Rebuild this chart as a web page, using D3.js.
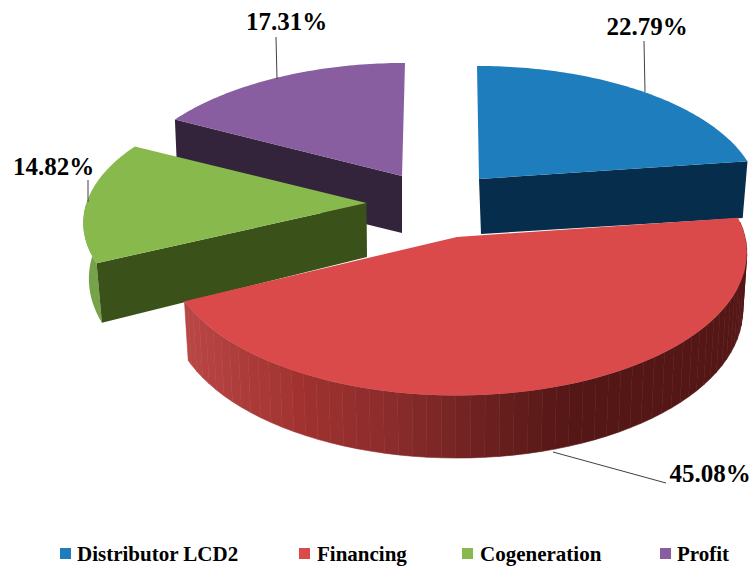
<!DOCTYPE html>
<html>
<head>
<meta charset="utf-8">
<style>
html,body{margin:0;padding:0;background:#fff;}
svg{display:block;}
text{font-family:"Liberation Serif","Times New Roman",serif;font-weight:bold;fill:#000;}
</style>
<script src="https://cdn.jsdelivr.net/npm/d3@7/dist/d3.min.js"></script>
</head>
<body>
<svg id="chart" width="751" height="566"></svg>
<script>
// ---- data ----
const categories = ["Distributor LCD2", "Financing", "Cogeneration", "Profit"];
const shares = [22.79, 45.08, 14.82, 17.31];

// ---- styles ----
const topColors = ["#1e7dbc", "#da4a4b", "#87b94d", "#885ea0"];
const cutColors = ["#062e4c", "#541716", "#3a511a", "#33233b"];
const legendColors = ["#1e7dbc", "#da4a4b", "#87b94d", "#885ea0"];
const redWallStops = [188, 300, 392, 455, 540, 580];
const redWallColors = ["#b84644", "#a03230", "#8a2c2b", "#762424", "#5c1a18", "#541716"];
const greenWallColor = "#76a24a";

// ---- perspective geometry per exploded slice ----
const layouts = [
  {x:479, y:179, rx:277, ry:130, k:.15, sh:-2, bx:481, by:234, brx:270, bry:118, cut:"end"},
  {x:457, y:237, rx:288, ry:141, k:.11, sh:0,  bx:457, by:294, brx:284, bry:146, cut:null},
  {x:366.5,y:203,rx:280, ry:130, k:.15, sh:0,  bx:367, by:257, brx:275, bry:142, cut:"start"},
  {x:402, y:176, rx:276, ry:130, k:.15, sh:3,  bx:402, by:233, brx:273, bry:127, cut:"start"}
];
const labelSpots = [
  {x:647, y:35, anchor:"middle", line:[[644,41],[645,92]]},
  {x:710, y:482, anchor:"middle", line:[[553,452],[666,483]]},
  {x:53.5, y:175, anchor:"middle", line:[[88,180],[88,202]]},
  {x:286.5, y:30, anchor:"middle", line:[[276,37],[277,79]]}
];
const legendSpots = [{sq:60, tx:77}, {sq:299, tx:317}, {sq:462, tx:480}, {sq:660, tx:677}];

const svg = d3.select("#chart");
const pie = d3.pie().sort(null).value(d => d).startAngle(0).endAngle(2 * Math.PI);
const arcs = pie(shares);
const line = d3.line();

function topPoint(L, a) {
  const X = Math.sin(a), Y = Math.cos(a), s = 1 / (1 + L.k * Y);
  return [L.x + L.rx * X * s + L.sh * Y, L.y - L.ry * Y * s];
}
function bottomPoint(L, a) {
  const X = Math.sin(a), Y = Math.cos(a), s = 1 / (1 + L.k * Y);
  return [L.bx + L.brx * X * s + L.sh * Y, L.by - L.bry * Y * s];
}
function steps(a0, a1, d) {
  const out = d3.range(a0, a1, d);
  out.push(a1);
  return out;
}

const redWall = d3.scaleLinear().domain(redWallStops).range(redWallColors).clamp(true);
const order = [3, 0, 2, 1]; // back to front
const D = Math.PI / 180;

order.forEach(i => {
  const L = layouts[i], A = arcs[i], g = svg.append("g");
  const isRed = i === 1;

  // curved outer wall: only the part that faces the viewer
  const w0 = Math.max(A.startAngle, 84 * D), w1 = Math.min(A.endAngle, 270 * D);
  if (w1 > w0) {
    const seq = steps(w0, w1, isRed ? 2.6 * D : 2 * D);
    if (isRed) {
      d3.pairs(seq).forEach(([a, b]) => {
        const poly = [topPoint(L, a), topPoint(L, b), bottomPoint(L, b), bottomPoint(L, a)];
        const col = redWall((poly[0][0] + poly[1][0]) / 2);
        g.append("path").attr("d", line(poly) + "Z").attr("fill", col).attr("stroke", col).attr("stroke-width", .6);
      });
    } else {
      const poly = seq.map(a => topPoint(L, a)).concat(seq.slice().reverse().map(a => bottomPoint(L, a)));
      g.append("path").attr("d", line(poly) + "Z").attr("fill", greenWallColor);
    }
  }

  // straight cut face
  if (L.cut) {
    const a = L.cut === "start" ? A.startAngle : A.endAngle;
    const poly = [[L.x, L.y], topPoint(L, a), bottomPoint(L, a), [L.bx, L.by]];
    g.append("path").attr("d", line(poly) + "Z").attr("fill", cutColors[i]);
  }

  // top face
  const rim = steps(A.startAngle, A.endAngle, 1 * D).map(a => topPoint(L, a));
  g.append("path").attr("d", line([[L.x, L.y]].concat(rim)) + "Z").attr("fill", topColors[i]);
});

// leader lines and value labels
labelSpots.forEach((p, i) => {
  svg.append("path").attr("d", line(p.line)).attr("fill", "none").attr("stroke", "#404040").attr("stroke-width", 1);
  svg.append("text").attr("x", p.x).attr("y", p.y).attr("text-anchor", p.anchor)
    .attr("font-size", 25).text(d3.format(".2f")(shares[i]) + "%");
});

// legend
categories.forEach((c, i) => {
  const s = legendSpots[i];
  svg.append("rect").attr("x", s.sq).attr("y", 548).attr("width", 11).attr("height", 11).attr("fill", legendColors[i]);
  svg.append("text").attr("x", s.tx).attr("y", 561).attr("font-size", 21).text(c);
});
</script>
</body>
</html>
